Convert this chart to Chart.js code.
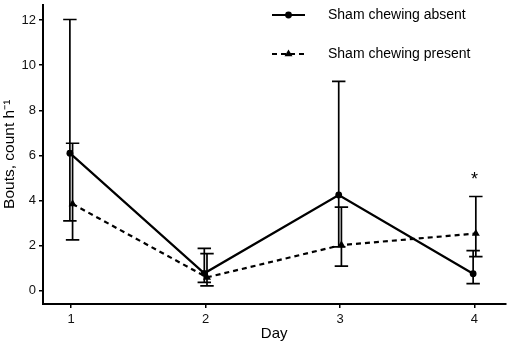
<!DOCTYPE html>
<html><head><meta charset="utf-8">
<script src="https://cdn.jsdelivr.net/npm/chart.js@4"></script>
<style>html,body{margin:0;padding:0;background:#fff}canvas{display:block}</style>
</head><body>
<canvas id="c" width="510" height="344"></canvas>
<script>
// ---- data ----
const days = [1, 2, 3, 4];
const seriesNames = ['Sham chewing absent', 'Sham chewing present'];
const absentMean  = [6.10, 0.78, 4.25, 0.76];
const absentLow   = [3.10, 0.38, 1.95, 0.32];
const absentHigh  = [12.02, 1.88, 9.28, 1.78];
const presentMean = [3.85, 0.60, 2.03, 2.54];
const presentLow  = [2.26, 0.22, 1.10, 1.52];
const presentHigh = [6.54, 1.65, 3.71, 4.18];
const yTickValues = [0, 2, 4, 6, 8, 10, 12];
const xTickValues = [1, 2, 3, 4];
const sigDays  = [4];
const sigY     = [5.17];
const sigMarks = ['*'];
const xTitle = 'Day';
const yTitle = 'Bouts, count h\u207B\u00B9';

// ---- style ----
const FONT = "'Liberation Sans', Arial, sans-serif";
const DODGE = 0.01;
const CAP_HALF = 0.05; // in x data units
const errors = [[absentLow, absentHigh, -DODGE], [presentLow, presentHigh, DODGE]];
const mk = (means, d) => days.map((x, i) => ({x: x + d, y: means[i]}));

function drawMarker(ctx, style, x, y, r) {
  ctx.beginPath();
  if (style === 'circle') {
    ctx.arc(x, y, r, 0, Math.PI * 2);
  } else {
    for (let k = 0; k < 3; k++) {
      const a = k * 2 * Math.PI / 3;
      const px = x + Math.sin(a) * r, py = y - Math.cos(a) * r;
      k ? ctx.lineTo(px, py) : ctx.moveTo(px, py);
    }
    ctx.closePath();
  }
  ctx.fill();
}

const errorBarPlugin = {
  id: 'errorBars',
  beforeDatasetsDraw(chart) {
    const {ctx, scales: {x, y}} = chart;
    ctx.save();
    ctx.strokeStyle = '#000';
    ctx.lineWidth = 1.7;
    ctx.setLineDash([]);
    errors.forEach(([lo, hi, d]) => {
      days.forEach((day, i) => {
        const px = x.getPixelForValue(day + d);
        const hw = x.getPixelForValue(day + d + CAP_HALF) - px;
        const pl = y.getPixelForValue(lo[i]);
        const ph = y.getPixelForValue(hi[i]);
        ctx.beginPath();
        ctx.moveTo(px, pl); ctx.lineTo(px, ph);
        ctx.moveTo(px - hw, pl); ctx.lineTo(px + hw, pl);
        ctx.moveTo(px - hw, ph); ctx.lineTo(px + hw, ph);
        ctx.stroke();
      });
    });
    ctx.restore();
  },
  afterDraw(chart) {
    const {ctx, scales: {x, y}} = chart;
    ctx.save();
    // significance marks
    ctx.fillStyle = '#000';
    ctx.font = '18px ' + FONT;
    ctx.textAlign = 'center';
    ctx.textBaseline = 'alphabetic';
    sigDays.forEach((d, i) => {
      ctx.fillText(sigMarks[i], x.getPixelForValue(d), y.getPixelForValue(sigY[i]) + 0.58 * 18);
    });
    // legend
    const LX1 = 272, LX2 = 305, LTX = 328, LY = [15, 54];
    ctx.font = '14px ' + FONT;
    ctx.textAlign = 'left';
    ctx.textBaseline = 'middle';
    chart.data.datasets.forEach((ds, i) => {
      ctx.strokeStyle = '#000';
      ctx.lineWidth = 2.2;
      ctx.setLineDash(ds.borderDash || []);
      ctx.beginPath();
      ctx.moveTo(LX1, LY[i]); ctx.lineTo(LX2, LY[i]);
      ctx.stroke();
      ctx.setLineDash([]);
      ctx.fillStyle = '#000';
      drawMarker(ctx, ds.pointStyle, (LX1 + LX2) / 2, LY[i], ds.pointRadius);
      ctx.fillStyle = '#000';
      ctx.fillText(ds.label, LTX, LY[i]);
    });
    ctx.restore();
  }
};

const zeroPad = s => { s.paddingTop = 0; s.paddingBottom = 0; s.paddingLeft = 0; s.paddingRight = 0; };

new Chart(document.getElementById('c'), {
  type: 'line',
  data: {
    datasets: [
      {label: seriesNames[0], data: mk(absentMean, -DODGE), borderColor: '#000', backgroundColor: '#000',
       borderWidth: 2.2, pointStyle: 'circle', pointRadius: 3.4, pointBorderWidth: 0, tension: 0},
      {label: seriesNames[1], data: mk(presentMean, DODGE), borderColor: '#000', backgroundColor: '#000',
       borderWidth: 2.2, borderDash: [5, 4], pointStyle: 'triangle', pointRadius: 4.6, pointBorderWidth: 0, tension: 0}
    ]
  },
  options: {
    responsive: false,
    animation: false,
    devicePixelRatio: 1,
    layout: {padding: 0},
    plugins: {legend: {display: false}, tooltip: {enabled: false}},
    scales: {
      x: {
        type: 'linear', position: 'bottom', min: 0.79, max: 4.23,
        afterBuildTicks: s => { s.ticks = xTickValues.map(v => ({value: v})); },
        afterFit: s => { s.height = 40; zeroPad(s); },
        grid: {drawOnChartArea: false, drawTicks: true, tickLength: 4, color: '#000', lineWidth: 1.5},
        border: {display: true, color: '#000', width: 2},
        ticks: {color: '#111', font: {family: FONT, size: 13}, padding: 3.5, maxRotation: 0, callback: v => String(v)},
        title: {display: true, text: xTitle, color: '#000', font: {family: FONT, size: 15}, padding: {top: 0, bottom: 1.5}}
      },
      y: {
        type: 'linear', min: -0.58, max: 12.68,
        afterBuildTicks: s => { s.ticks = yTickValues.map(v => ({value: v})); },
        afterFit: s => { s.width = 43; zeroPad(s); },
        grid: {drawOnChartArea: false, drawTicks: true, tickLength: 4, color: '#000', lineWidth: 1.5},
        border: {display: true, color: '#000', width: 2},
        ticks: {color: '#111', font: {family: FONT, size: 13}, padding: 3, callback: v => String(v)},
        title: {display: true, text: yTitle, color: '#000', font: {family: FONT, size: 15.5}, padding: {top: 0, bottom: 0}}
      }
    }
  },
  plugins: [errorBarPlugin]
});
</script>
</body></html>
